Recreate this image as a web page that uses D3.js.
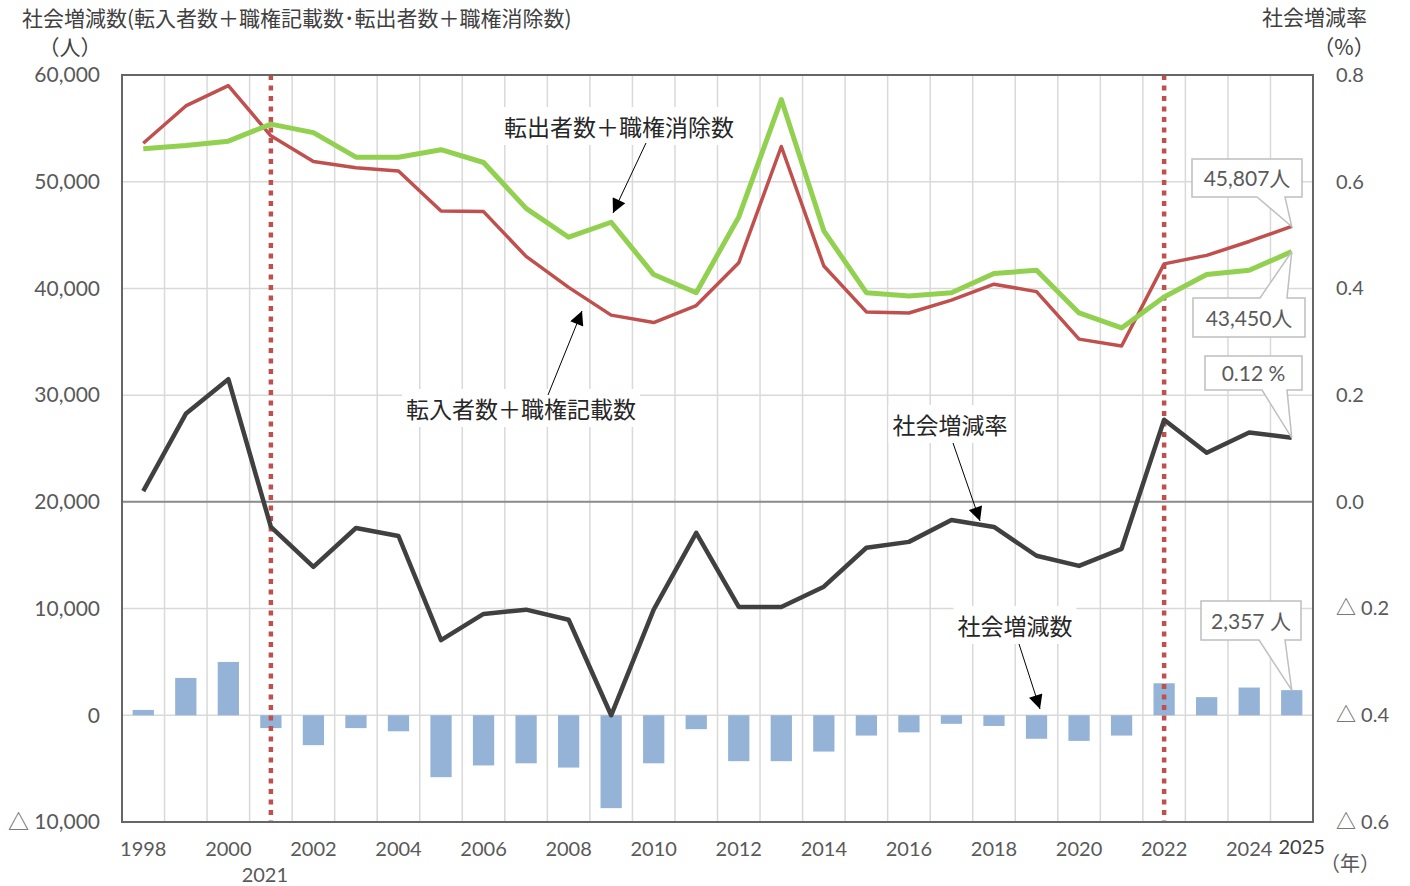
<!DOCTYPE html>
<html>
<head>
<meta charset="utf-8">
<script src="https://cdn.jsdelivr.net/npm/d3@7"></script>
<style>
  body { margin: 0; background: #fff; }
  .num { font-family: Lato, "Noto Sans CJK JP", sans-serif; font-size: 20px; fill: #595959; }
  .jp { font-family: "Noto Sans CJK JP", sans-serif; fill: #404040; }
</style>
</head>
<body>
<svg id="chart" width="1410" height="886"></svg>
<script>
const width = 1410;
const height = 886;
const plot = { left: 122, right: 1313, top: 75, bottom: 822 };

// data
const years = [1998, 1999, 2000, 2001, 2002, 2003, 2004, 2005, 2006, 2007, 2008, 2009, 2010, 2011,
  2012, 2013, 2014, 2015, 2016, 2017, 2018, 2019, 2020, 2021, 2022, 2023, 2024, 2025];
// 転入者数＋職権記載数
const inflow = [53600, 57100, 59000, 54300, 51900, 51300, 51000, 47250, 47200, 43000, 40100, 37500, 36800, 38400,
  42400, 53300, 42100, 37800, 37700, 38900, 40400, 39700, 35250, 34600, 42300, 43100, 44400, 45807];
// 転出者数＋職権消除数
const outflow = [53100, 53400, 53800, 55400, 54600, 52300, 52300, 53000, 51800, 47500, 44800, 46200, 41300, 39600,
  46700, 57700, 45400, 39600, 39300, 39600, 41400, 41700, 37700, 36300, 39200, 41300, 41700, 43450];
// 社会増減率 (%)
const rate = [0.02, 0.165, 0.23, -0.047, -0.122, -0.049, -0.064, -0.259, -0.21, -0.202, -0.221, -0.40, -0.202, -0.058,
  -0.197, -0.197, -0.159, -0.086, -0.075, -0.034, -0.047, -0.101, -0.12, -0.088, 0.154, 0.092, 0.13, 0.12];
// 社会増減数
const netCount = [500, 3500, 5000, -1200, -2800, -1200, -1500, -5800, -4700, -4500, -4900, -8700, -4500, -1300,
  -4300, -4300, -3400, -1900, -1600, -800, -1000, -2200, -2400, -1900, 3000, 1700, 2600, 2357];

const leftTicks = [60000, 50000, 40000, 30000, 20000, 10000, 0, -10000];
const rightTicks = [0.8, 0.6, 0.4, 0.2, 0.0, -0.2, -0.4, -0.6];
const xTickYears = [1998, 2000, 2002, 2004, 2006, 2008, 2010, 2012, 2014, 2016, 2018, 2020, 2022, 2024];
const markerYears = [2001, 2022];

const svg = d3.select("#chart");

const xBand = d3.scaleBand().domain(years).range([plot.left, plot.right]).paddingInner(0).paddingOuter(0);
const xP = d => xBand(d) + xBand.bandwidth() / 2;
const yL = d3.scaleLinear().domain([-10000, 60000]).range([plot.bottom, plot.top]);
const yR = d3.scaleLinear().domain([-0.6, 0.8]).range([plot.bottom, plot.top]);

const tri = v => v < 0 ? "△ " : "";

// gridlines
svg.append("g").selectAll("line").data(leftTicks).enter().append("line")
  .attr("x1", plot.left).attr("x2", plot.right)
  .attr("y1", d => yL(d)).attr("y2", d => yL(d))
  .attr("stroke", "#d9d9d9").attr("stroke-width", 1.5);
svg.append("g").selectAll("line").data(years.slice(1)).enter().append("line")
  .attr("x1", d => xBand(d)).attr("x2", d => xBand(d))
  .attr("y1", plot.top).attr("y2", plot.bottom)
  .attr("stroke", "#d9d9d9").attr("stroke-width", 1.5);

// zero line of right axis
svg.append("line")
  .attr("x1", plot.left).attr("x2", plot.right)
  .attr("y1", yR(0)).attr("y2", yR(0))
  .attr("stroke", "#8c8c8c").attr("stroke-width", 2);

// bars
const barW = xBand.bandwidth() * 0.5;
svg.append("g").selectAll("rect").data(years).enter().append("rect")
  .attr("x", d => xP(d) - barW / 2)
  .attr("width", barW)
  .attr("y", (d, i) => yL(Math.max(0, netCount[i])))
  .attr("height", (d, i) => Math.abs(yL(netCount[i]) - yL(0)))
  .attr("fill", "#95b3d7");

// red dotted markers
svg.append("g").selectAll("line").data(markerYears).enter().append("line")
  .attr("x1", d => xP(d)).attr("x2", d => xP(d))
  .attr("y1", plot.top).attr("y2", plot.bottom)
  .attr("stroke", "#c0504d").attr("stroke-width", 4.5)
  .attr("stroke-dasharray", "5,5.5");

// lines
function drawLine(values, yScale, color, w) {
  const line = d3.line().x((d, i) => xP(years[i])).y(d => yScale(d));
  svg.append("path").datum(values)
    .attr("d", line).attr("fill", "none")
    .attr("stroke", color).attr("stroke-width", w)
    .attr("stroke-linejoin", "round");
}
drawLine(inflow, yL, "#c0504d", 3.5);
drawLine(outflow, yL, "#92d050", 5);
drawLine(rate, yR, "#404040", 4.5);

// frame
svg.append("rect")
  .attr("x", plot.left).attr("y", plot.top)
  .attr("width", plot.right - plot.left).attr("height", plot.bottom - plot.top)
  .attr("fill", "none").attr("stroke", "#666").attr("stroke-width", 2);

// axes
const leftAxis = svg.append("g")
  .attr("transform", `translate(${plot.left},0)`)
  .call(d3.axisLeft(yL).tickValues(leftTicks).tickSize(0).tickPadding(22)
    .tickFormat(d => tri(d) + d3.format(",")(Math.abs(d))));
const rightAxis = svg.append("g")
  .attr("transform", `translate(${plot.right},0)`)
  .call(d3.axisRight(yR).tickValues(rightTicks).tickSize(0).tickPadding(23)
    .tickFormat(d => tri(d) + d3.format(".1f")(Math.abs(d))));
const bottomAxis = svg.append("g")
  .attr("transform", `translate(0,${plot.bottom})`)
  .call(d3.axisBottom(xBand).tickValues(xTickYears).tickSize(0).tickPadding(20));
[leftAxis, rightAxis, bottomAxis].forEach(a => {
  a.select(".domain").remove();
  a.selectAll("text").attr("class", "num").attr("fill", null);
});
leftAxis.selectAll("text").style("font-size", "21px");

svg.append("text").attr("class", "num")
  .attr("x", xP(2025) + 10).attr("y", 854)
  .attr("text-anchor", "middle").style("fill", "#404040")
  .text("2025");
svg.append("text").attr("class", "num")
  .attr("x", xP(2001) - 6).attr("y", 882)
  .attr("text-anchor", "middle")
  .text("2021");
svg.append("text").attr("class", "jp")
  .attr("x", 1350).attr("y", 871).attr("font-size", 20)
  .attr("text-anchor", "middle").style("fill", "#595959")
  .text("（年）");

// axis titles
svg.append("text").attr("class", "jp")
  .attr("x", 22).attr("y", 26).attr("font-size", 21)
  .text("社会増減数(転入者数＋職権記載数･転出者数＋職権消除数)");
svg.append("text").attr("class", "jp")
  .attr("x", 70).attr("y", 55).attr("font-size", 21)
  .attr("text-anchor", "middle")
  .text("（人）");
svg.append("text").attr("class", "jp")
  .attr("x", 1367).attr("y", 25).attr("font-size", 21)
  .attr("text-anchor", "end")
  .text("社会増減率");
svg.append("text").attr("class", "jp")
  .attr("x", 1344).attr("y", 55).attr("font-size", 21)
  .attr("text-anchor", "middle")
  .text("（%）");

// annotation arrows
const defs = svg.append("defs");
defs.append("marker")
  .attr("id", "arrow")
  .attr("viewBox", "0 0 10 10")
  .attr("refX", 10).attr("refY", 5)
  .attr("markerWidth", 16).attr("markerHeight", 14)
  .attr("markerUnits", "userSpaceOnUse")
  .attr("orient", "auto")
  .append("path").attr("d", "M0,0 L10,5 L0,10 z").attr("fill", "#000");

const notes = [
  { text: "転出者数＋職権消除数", cx: 619, cy: 128, from: [646, 143], to: [613, 213] },
  { text: "転入者数＋職権記載数", cx: 521, cy: 410, from: [548, 395], to: [582, 311] },
  { text: "社会増減率", cx: 950, cy: 426, from: [953, 443], to: [980, 521] },
  { text: "社会増減数", cx: 1015, cy: 627, from: [1019, 644], to: [1040, 709] }
];
notes.forEach(n => {
  const g = svg.append("g");
  const t = g.append("text").attr("class", "jp")
    .attr("x", n.cx).attr("y", n.cy + 8).attr("font-size", 23)
    .attr("text-anchor", "middle").style("fill", "#262626")
    .text(n.text);
  const bb = t.node().getBBox();
  g.insert("rect", "text")
    .attr("x", bb.x - 4).attr("y", bb.y - 2)
    .attr("width", bb.width + 8).attr("height", bb.height + 4)
    .attr("fill", "#fff");
  g.append("line")
    .attr("x1", n.from[0]).attr("y1", n.from[1])
    .attr("x2", n.to[0]).attr("y2", n.to[1])
    .attr("stroke", "#000").attr("stroke-width", 1)
    .attr("marker-end", "url(#arrow)");
});

// data callouts
const last = years.length - 1;
const callouts = [
  { label: d3.format(",")(inflow[last]) + "人", tip: [xP(2025), yL(inflow[last])],
    box: [1192, 159, 1302, 197], wedge: [1257, 1285], side: "bottom" },
  { label: d3.format(",")(outflow[last]) + "人", tip: [xP(2025), yL(outflow[last])],
    box: [1193, 298, 1305, 337], wedge: [1260, 1287], side: "top" },
  { label: rate[last] + " %", tip: [xP(2025), yR(rate[last])],
    box: [1205, 356, 1302, 390], wedge: [1262, 1287], side: "bottom" },
  { label: d3.format(",")(netCount[last]) + " 人", tip: [xP(2025), yL(netCount[last])],
    box: [1201, 601, 1301, 640], wedge: [1259, 1285], side: "bottom" }
];
callouts.forEach(c => {
  const [x0, y0, x1, y1] = c.box;
  const [w0, w1] = c.wedge;
  let d;
  if (c.side === "bottom") {
    d = `M${x0},${y0} H${x1} V${y1} H${w1} L${c.tip[0]},${c.tip[1]} L${w0},${y1} H${x0} Z`;
  } else {
    d = `M${x0},${y0} H${w0} L${c.tip[0]},${c.tip[1]} L${w1},${y0} H${x1} V${y1} H${x0} Z`;
  }
  svg.append("path").attr("d", d)
    .attr("fill", "#fff").attr("stroke", "#bfbfbf").attr("stroke-width", 1.5);
  svg.append("text")
    .attr("x", (x0 + x1) / 2).attr("y", (y0 + y1) / 2 + 8)
    .attr("text-anchor", "middle")
    .style("font-family", "Lato, 'Noto Sans CJK JP', sans-serif")
    .style("font-size", "21px").style("fill", "#595959")
    .text(c.label);
});
</script>
</body>
</html>
